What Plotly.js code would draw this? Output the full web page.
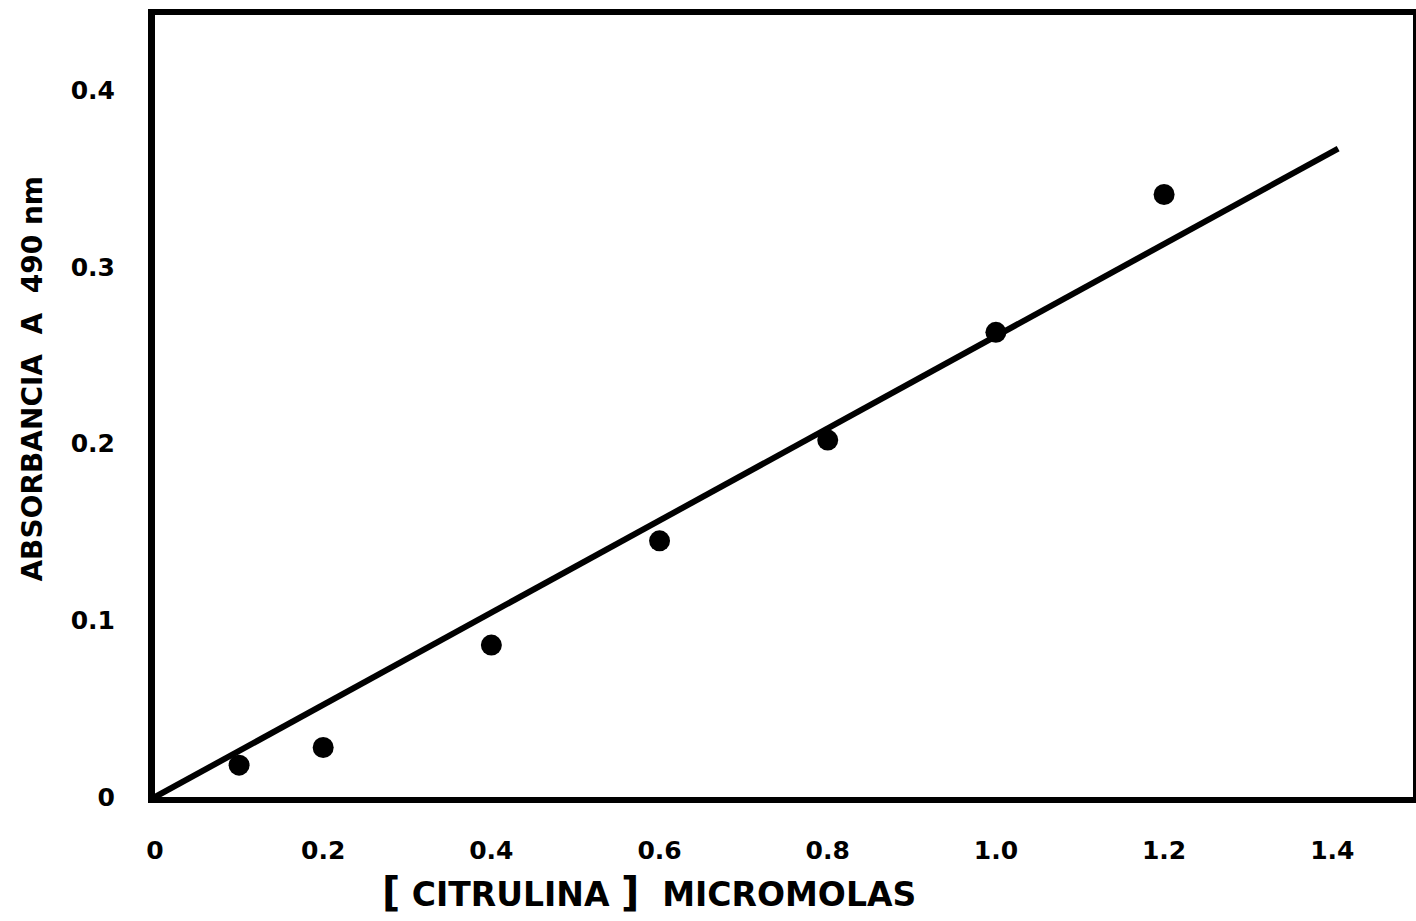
<!DOCTYPE html>
<html>
<head>
<meta charset="utf-8">
<script src="https://cdn.plot.ly/plotly-3.0.1.min.js"></script>
<style>html,body{margin:0;padding:0;background:#fff;}#chart{width:1416px;height:921px;}</style>
</head>
<body>
<div id="chart"></div>
<script>
// Data
const citrulina = [0.1, 0.2, 0.4, 0.6, 0.8, 1.0, 1.2];
const absorbancia = [0.018, 0.028, 0.086, 0.145, 0.202, 0.263, 0.341];
const fitX = [0, 1.407];
const fitY = [0, 0.367];
const xTickVals = [0, 0.2, 0.4, 0.6, 0.8, 1.0, 1.2, 1.4];
const xTickText = ['0', '0.2', '0.4', '0.6', '0.8', '1.0', '1.2', '1.4'];
const yTickVals = [0, 0.1, 0.2, 0.3, 0.4];
const yTickText = ['0', '0.1', '0.2', '0.3', '0.4'];

const font = 'DejaVu Sans, Arial, sans-serif';

const traces = [
  {x: fitX, y: fitY, mode: 'lines', type: 'scatter',
   line: {color: '#000', width: 6}, hoverinfo: 'skip', showlegend: false},
  {x: citrulina, y: absorbancia, mode: 'markers', type: 'scatter',
   marker: {color: '#000', size: 21}, showlegend: false}
];

const layout = {
  width: 1416, height: 921,
  margin: {l: 155, r: 3, t: 15, b: 124},
  paper_bgcolor: '#fff', plot_bgcolor: '#fff',
  showlegend: false,
  xaxis: {
    range: [0, 1.496], tickvals: xTickVals, ticktext: xTickText,
    showgrid: false, zeroline: false, ticks: '',
    showline: true, mirror: true, linecolor: '#000', linewidth: 6,
    tickfont: {family: font, size: 25, color: '#000', weight: 'bold'},
    ticklabelstandoff: 26
  },
  yaxis: {
    range: [0, 0.4426], tickvals: yTickVals, ticktext: yTickText,
    showgrid: false, zeroline: false, ticks: '',
    showline: true, mirror: true, linecolor: '#000', linewidth: 7,
    tickfont: {family: font, size: 25, color: '#000', weight: 'bold'},
    ticklabelstandoff: 28
  },
  annotations: [
    {text: '<span style="font-size:40px">[</span> CITRULINA <span style="font-size:40px">]</span>  MICROMOLAS',
     xref: 'paper', yref: 'paper', x: 0.393, y: -0.122, xanchor: 'center', yanchor: 'middle',
     showarrow: false, font: {family: font, size: 33, color: '#000', weight: 'bold'}},
    {text: 'ABSORBANCIA  A  490 nm', textangle: -90,
     xref: 'paper', yref: 'paper', x: -0.097, y: 0.535, xanchor: 'center', yanchor: 'middle',
     showarrow: false, font: {family: font, size: 28, color: '#000', weight: 'bold'}}
  ]
};

Plotly.newPlot('chart', traces, layout, {displayModeBar: false, staticPlot: true});
</script>
</body>
</html>
